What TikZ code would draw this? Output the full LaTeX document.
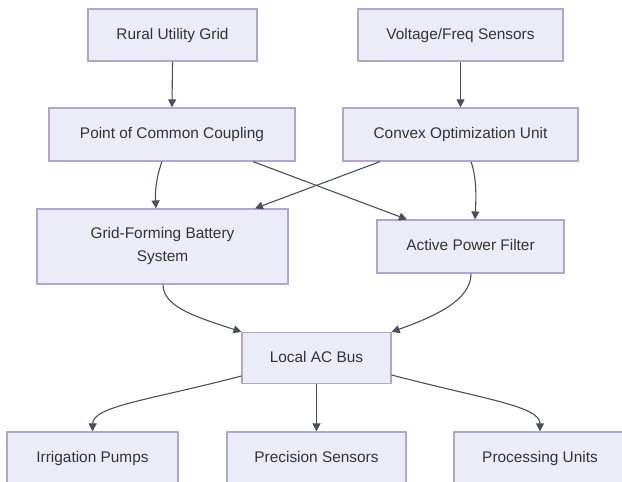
\documentclass[tikz,border=0pt]{standalone}
\usepackage{fontspec}
\setmainfont{Liberation Sans}
\usetikzlibrary{arrows.meta}
\definecolor{boxfill}{HTML}{ECECF8}
\definecolor{boxline}{HTML}{B2A6CC}
\definecolor{edgecol}{HTML}{4A505C}
\definecolor{txtcol}{HTML}{333333}
\tikzset{
  box/.style={draw=boxline, fill=boxfill, line width=1.2pt, inner sep=0pt,
    text=txtcol, font=\fontsize{15.4}{23}\selectfont, align=center},
  oneline/.style={text height=11pt, text depth=3pt},
  conn/.style={draw=edgecol, line width=1.1pt,
    -{Triangle[length=8pt,width=8pt]}}
}
\begin{document}
\begin{tikzpicture}[x=1pt,y=-1pt]
\useasboundingbox (0,0) rectangle (622,482);
\fill[white] (0,0) rectangle (622,482);
\node[box, oneline, minimum width=169pt, minimum height=52pt] (rug) at (172.5,35) {Rural Utility Grid};
\node[box, oneline, minimum width=205pt, minimum height=52pt] (vfs) at (460.5,35) {Voltage/Freq Sensors};
\node[box, oneline, minimum width=246pt, minimum height=53pt] (pcc) at (172,134.5) {Point of Common Coupling};
\node[box, oneline, minimum width=235pt, minimum height=53pt] (cou) at (460.5,134.5) {Convex Optimization Unit};
\node[box, minimum width=251pt, minimum height=75pt] (gfb) at (162.5,246.5) {Grid-Forming Battery\\System};
\node[box, oneline, minimum width=187pt, minimum height=53pt] (apf) at (470.5,246.5) {Active Power Filter};
\node[box, oneline, minimum width=149pt, minimum height=51pt] (lab) at (316.5,358) {Local AC Bus};
\node[box, oneline, minimum width=171pt, minimum height=52pt] (irp) at (92.5,458) {Irrigation Pumps};
\node[box, oneline, minimum width=179pt, minimum height=52pt] (prs) at (316.5,458) {Precision Sensors};
\node[box, oneline, minimum width=172pt, minimum height=52pt] (pru) at (540,458) {Processing Units};

\draw[conn] (rug.south) -- (pcc.north);
\draw[conn] (vfs.south) -- (cou.north);
\draw[conn] (pcc.south -| 162,0) .. controls (156,178) and (155,192) .. (gfb.north -| 156,0);
\draw[conn] (pcc.south -| 253,0) -- (apf.north -| 407,0);
\draw[conn] (cou.south -| 380,0) -- (gfb.north -| 255,0);
\draw[conn] (cou.south -| 471,0) .. controls (477,178) and (476,200) .. (apf.north -| 475,0);
\draw[conn] (gfb.south -| 163,0) .. controls (163,308) and (200,318) .. (lab.north west);
\draw[conn] (apf.south -| 471,0) .. controls (471,300) and (436,316) .. (lab.north east);
\draw[conn] (lab.west |- 0,376) .. controls (150,400) and (93,406) .. (irp.north);
\draw[conn] (lab.south) -- (prs.north);
\draw[conn] (lab.east |- 0,375) .. controls (483,399) and (540,406) .. (pru.north);
\end{tikzpicture}
\end{document}
